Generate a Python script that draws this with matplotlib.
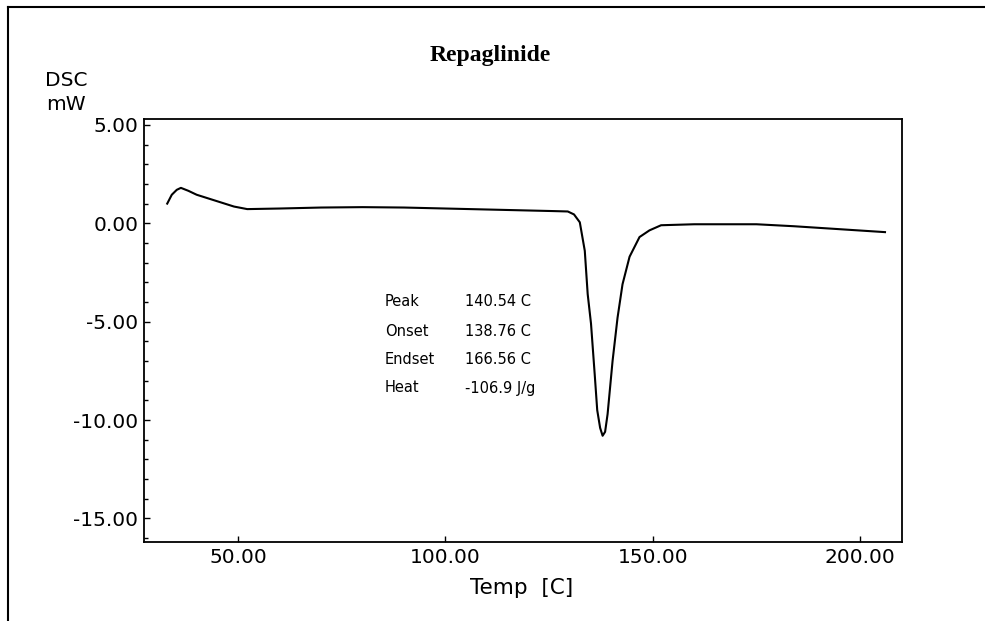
import matplotlib
matplotlib.use("Agg")
import matplotlib.pyplot as plt
from matplotlib.lines import Line2D
from matplotlib.ticker import MultipleLocator, FormatStrFormatter

temp = [32.9, 34.0, 35.2, 36.2, 38.0, 40.0, 43.0, 46.0, 49.0, 52.2, 60.0, 70.0, 80.0,
        90.0, 100.0, 110.0, 120.0, 126.0, 129.5, 131.0, 132.4, 133.6, 134.3, 135.1,
        136.0, 136.6, 137.3, 137.9, 138.5, 139.1, 140.3, 141.5, 142.7, 144.4, 146.8,
        149.2, 152.0, 160.0, 175.0, 184.0, 195.0, 206.0]
dsc = [1.0, 1.45, 1.7, 1.8, 1.65, 1.45, 1.25, 1.05, 0.85, 0.72, 0.75, 0.8, 0.82,
       0.8, 0.75, 0.7, 0.65, 0.62, 0.6, 0.45, 0.05, -1.4, -3.6, -5.1,
       -7.7, -9.5, -10.4, -10.8, -10.6, -9.7, -7.0, -4.8, -3.1, -1.7, -0.7,
       -0.36, -0.1, -0.05, -0.05, -0.15, -0.3, -0.45]

result_names = ["Peak", "Onset", "Endset", "Heat"]
result_values = ["140.54 C", "138.76 C", "166.56 C", "-106.9 J/g"]

x_ticks = [50, 100, 150, 200]
y_ticks = [5, 0, -5, -10, -15]

plt.rcParams['font.family'] = ['DejaVu Sans']

fig = plt.figure(figsize=(9.85, 6.21), dpi=100)
ax = fig.add_axes([144/985, 79/621, 758/985, 423/621])

ax.plot(temp, dsc, color='black', lw=1.5)

ax.set_xlim(27.3, 210.1)
ax.set_ylim(-16.2, 5.3)
ax.set_xticks(x_ticks)
ax.set_yticks(y_ticks)
ax.yaxis.set_minor_locator(MultipleLocator(1))
ax.xaxis.set_major_formatter(FormatStrFormatter('%.2f'))
ax.yaxis.set_major_formatter(FormatStrFormatter('%.2f'))
ax.tick_params(axis='both', which='major', direction='in', length=4, width=1,
               labelsize=14.5, pad=4, top=False, right=False)
ax.tick_params(axis='y', which='minor', direction='in', length=3, width=1)
for s in ax.spines.values():
    s.set_linewidth(1.3)

# annotation table
ys = [302, 331, 359, 388]
for name, val, yp in zip(result_names, result_values, ys):
    fig.text(385/985, 1 - yp/621, name, fontsize=10.5, va='center', ha='left')
    fig.text(465/985, 1 - yp/621, val, fontsize=10.5, va='center', ha='left')

fig.text(490/985, 1 - 55/621, "Repaglinide", fontsize=17, fontweight='bold',
         family='Liberation Serif', ha='center', va='center')
fig.text(66/985, 1 - 80/621, "DSC", fontsize=14.5, ha='center', va='center')
fig.text(66/985, 1 - 105/621, "mW", fontsize=14.5, ha='center', va='center')
fig.text(522/985, 1 - 588/621, "Temp  [C]", fontsize=15.5, ha='center', va='center')

# outer frame (top and left)
fig.add_artist(Line2D([8/985, 8/985], [0, 1 - 7/621], transform=fig.transFigure,
                      color='black', lw=1.5))
fig.add_artist(Line2D([8/985, 1], [1 - 7/621, 1 - 7/621], transform=fig.transFigure,
                      color='black', lw=1.5))

fig.savefig("out.png", dpi=100)
